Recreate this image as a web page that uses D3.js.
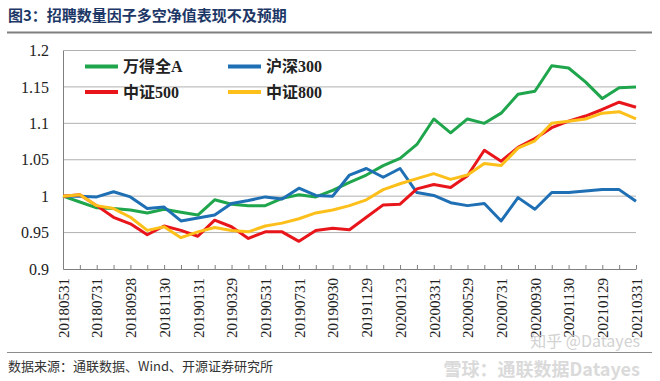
<!DOCTYPE html>
<html>
<head>
<meta charset="utf-8">
<script src="https://cdn.jsdelivr.net/npm/d3@7"></script>
<style>
  body { margin: 0; background: #fff; }
  svg { display: block; }
  .axis text { font-family: "Liberation Serif", "Times New Roman", serif; fill: #222; }
</style>
</head>
<body>
<svg id="chart"></svg>
<script>
// month-end dates (x categories)
const dates = [
  '20180531','20180629','20180731','20180831','20180928','20181031','20181130','20181228',
  '20190131','20190228','20190329','20190430','20190531','20190628','20190731','20190830',
  '20190930','20191031','20191129','20191231','20200123','20200228','20200331','20200430',
  '20200529','20200630','20200731','20200831','20200930','20201030','20201130','20201231',
  '20210129','20210226','20210331'
];
const seriesNames = ['万得全A', '沪深300', '中证500', '中证800'];
const wdqa = [1.000,0.992,0.984,0.983,0.981,0.977,0.982,0.978,0.974,0.995,0.989,0.987,0.987,0.997,1.002,0.999,
  1.008,1.019,1.029,1.042,1.052,1.071,1.106,1.087,1.106,1.100,1.114,1.140,1.144,1.179,1.176,1.157,1.134,1.149,1.150];
const hs300 = [1.000,1.000,0.999,1.006,0.999,0.983,0.985,0.966,0.970,0.974,0.990,0.994,0.999,0.996,1.011,1.001,
  1.000,1.029,1.038,1.026,1.038,1.005,1.001,0.991,0.987,0.990,0.966,0.998,0.982,1.005,1.005,1.007,1.009,1.009,0.993];
const zz500 = [1.000,1.002,0.987,0.971,0.962,0.947,0.959,0.953,0.945,0.967,0.958,0.942,0.951,0.951,0.938,0.953,
  0.956,0.954,0.971,0.988,0.989,1.010,1.016,1.012,1.028,1.063,1.048,1.067,1.079,1.094,1.103,1.110,1.119,1.129,1.122];
const zz800 = [1.000,1.002,0.987,0.983,0.971,0.953,0.958,0.943,0.951,0.957,0.953,0.951,0.959,0.963,0.969,0.977,
  0.981,0.987,0.995,1.009,1.017,1.024,1.031,1.023,1.029,1.045,1.042,1.066,1.076,1.100,1.103,1.106,1.114,1.116,1.106];
const yTicks = [0.9, 0.95, 1, 1.05, 1.1, 1.15, 1.2];
const colors = ['#1fa54c', '#1f6fb5', '#e8161b', '#fdbf1a'];

class NavChart {
  constructor(_config) {
    this.config = {
      parentElement: _config.parentElement,
      containerWidth: _config.containerWidth || 660,
      containerHeight: _config.containerHeight || 381,
      margin: {top: 50.5, right: 24, bottom: 112, left: 63}
    };
    this.series = [wdqa, hs300, zz500, zz800].map((vals, i) => ({
      name: seriesNames[i],
      color: colors[i],
      values: vals.map((v, j) => ({date: dates[j], value: v}))
    }));
    this.initVis();
  }

  initVis() {
    let vis = this;
    vis.width = vis.config.containerWidth - vis.config.margin.left - vis.config.margin.right;
    vis.height = vis.config.containerHeight - vis.config.margin.top - vis.config.margin.bottom;

    vis.svg = d3.select(vis.config.parentElement)
      .attr('width', vis.config.containerWidth)
      .attr('height', vis.config.containerHeight);

    // title + rule
    vis.svg.append('text')
      .attr('x', 8).attr('y', 21)
      .attr('font-family', '"Noto Sans CJK SC", sans-serif')
      .attr('font-size', 15).attr('font-weight', 700)
      .attr('fill', '#1d3767')
      .text('图3：招聘数量因子多空净值表现不及预期');
    vis.svg.append('line')
      .attr('x1', 7).attr('x2', 652).attr('y1', 32.5).attr('y2', 32.5)
      .attr('stroke', '#7f7f7f').attr('stroke-width', 2);

    vis.xScale = d3.scalePoint().domain(dates).range([0, vis.width]).padding(0);
    vis.yScale = d3.scaleLinear().domain([0.9, 1.2]).range([vis.height, 0]);

    vis.chart = vis.svg.append('g')
      .attr('transform', `translate(${vis.config.margin.left},${vis.config.margin.top})`);

    // gridlines
    vis.chart.append('g')
      .selectAll('line')
      .data(yTicks.filter(d => d > 0.9))
      .join('line')
      .attr('x1', 0).attr('x2', vis.width)
      .attr('y1', d => vis.yScale(d)).attr('y2', d => vis.yScale(d))
      .attr('stroke', '#b0b0b0').attr('stroke-width', 1);

    // y axis
    vis.yAxisG = vis.chart.append('g')
      .attr('class', 'axis y-axis')
      .call(d3.axisLeft(vis.yScale).tickValues(yTicks).tickSize(0).tickPadding(14).tickFormat(d3.format('')));
    vis.yAxisG.select('.domain').attr('stroke', '#7f7f7f');
    vis.yAxisG.selectAll('text').attr('font-size', 16);

    // x axis, ticks point inward
    vis.xAxisG = vis.chart.append('g')
      .attr('class', 'axis x-axis')
      .attr('transform', `translate(0,${vis.height})`)
      .call(d3.axisBottom(vis.xScale).tickSizeInner(-4).tickSizeOuter(0)
        .tickFormat((d, i) => i % 2 === 0 ? d : ''));
    vis.xAxisG.select('.domain').attr('stroke', '#7f7f7f');
    vis.xAxisG.selectAll('.tick line').attr('stroke', '#7f7f7f');
    vis.xAxisG.selectAll('text')
      .attr('font-size', 15)
      .attr('transform', 'rotate(-90)')
      .attr('text-anchor', 'end')
      .attr('dy', '0.35em')
      .attr('x', -9).attr('y', 0);

    vis.line = d3.line().x(d => vis.xScale(d.date)).y(d => vis.yScale(d.value));

    vis.renderVis();
  }

  renderVis() {
    let vis = this;
    vis.chart.selectAll('.nav-line')
      .data(vis.series)
      .join('path')
      .attr('class', 'nav-line')
      .attr('fill', 'none')
      .attr('stroke', d => d.color)
      .attr('stroke-width', 3)
      .attr('stroke-linejoin', 'round')
      .attr('d', d => vis.line(d.values));

    // legend, 2x2 inside plot
    const legend = vis.chart.selectAll('.legend-item')
      .data(vis.series)
      .join('g')
      .attr('class', 'legend-item')
      .attr('transform', (d, i) => `translate(${22 + (i % 2) * 143},${16 + Math.floor(i / 2) * 25.5})`);
    legend.append('line')
      .attr('x1', 0).attr('x2', 33)
      .attr('stroke', d => d.color).attr('stroke-width', 4);
    legend.append('text')
      .attr('x', 38).attr('dy', '0.36em')
      .attr('font-family', '"Liberation Serif", "Noto Sans CJK SC", serif')
      .attr('font-weight', 700).attr('font-size', 16)
      .attr('fill', '#222')
      .text(d => d.name);

    // footer
    vis.svg.append('line')
      .attr('x1', 7).attr('x2', 652).attr('y1', 352.5).attr('y2', 352.5)
      .attr('stroke', '#8c8c8c').attr('stroke-width', 1.2);
    vis.svg.append('text')
      .attr('x', 8).attr('y', 371)
      .attr('font-family', '"Noto Sans CJK SC", sans-serif')
      .attr('font-size', 13).attr('fill', '#333')
      .text('数据来源：通联数据、Wind、开源证券研究所');

    // watermarks
    vis.svg.append('text')
      .attr('x', 640).attr('y', 347).attr('text-anchor', 'end')
      .attr('font-family', '"Noto Sans CJK SC", sans-serif')
      .attr('font-size', 16).attr('fill', '#c8c8c8').attr('opacity', 0.8)
      .text('知乎 @Datayes');
    vis.svg.append('text')
      .attr('x', 640).attr('y', 376).attr('text-anchor', 'end')
      .attr('font-family', '"Noto Sans CJK SC", sans-serif')
      .attr('font-size', 18).attr('font-weight', 700).attr('fill', '#d2d2d2').attr('opacity', 0.8)
      .text('雪球：通联数据Datayes');
  }
}

new NavChart({parentElement: '#chart'});
</script>
</body>
</html>
